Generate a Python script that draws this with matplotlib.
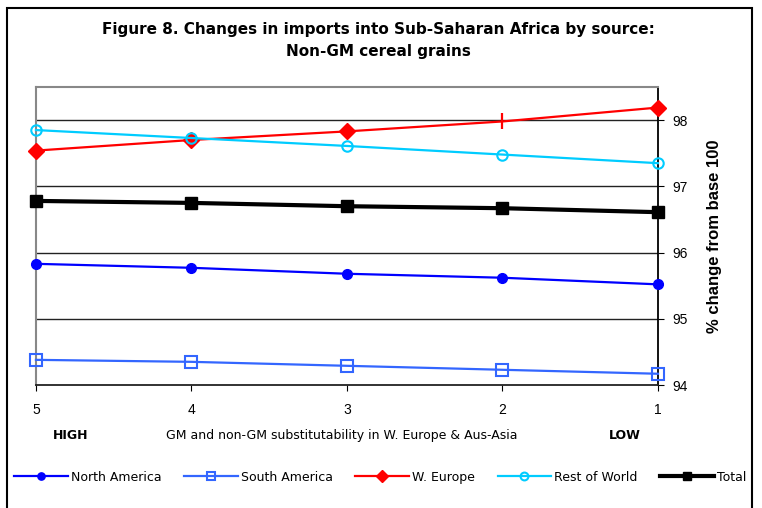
import matplotlib.pyplot as plt
from matplotlib.patches import Rectangle

# substitutability level (5 = high, 1 = low)
levels = [5, 4, 3, 2, 1]

north_america = [95.83, 95.77, 95.68, 95.62, 95.52]
south_america = [94.38, 94.35, 94.29, 94.23, 94.17]
w_europe = [97.54, 97.70, 97.83, 97.98, 98.19]
rest_of_world = [97.85, 97.73, 97.61, 97.48, 97.35]
total = [96.78, 96.75, 96.70, 96.67, 96.61]

y_ticks = [94, 95, 96, 97, 98]

plt.rcParams['font.family'] = ['Liberation Sans', 'DejaVu Sans']

fig = plt.figure(figsize=(7.62, 5.08), dpi=100)
ax = fig.add_axes([0.0472, 0.2421, 0.8163, 0.5866])

# horizontal gridlines
for yv in y_ticks[1:]:
    ax.axhline(yv, color='#222222', lw=1.0, zorder=1)

ax.plot(levels, north_america, color='#0000FF', lw=1.6, marker='o', ms=7,
        label='North America', zorder=3, clip_on=False)
ax.plot(levels, south_america, color='#3366FF', lw=1.6, marker='s', ms=8,
        mfc='none', mew=1.5, label='South America', zorder=3, clip_on=False)
ax.plot(levels, w_europe, color='#FF0000', lw=1.6, marker='D', ms=8.5,
        markevery=[0, 1, 2, 4], label='W. Europe', zorder=3, clip_on=False)
ax.plot(levels[3], w_europe[3], color='#FF0000', marker='|', ms=12, mew=1.6,
        zorder=3)
ax.plot(levels, rest_of_world, color='#00CCFF', lw=1.6, marker='o', ms=7.5,
        mfc='none', mew=1.5, label='Rest of World', zorder=4, clip_on=False)
ax.plot(levels, total, color='black', lw=3, marker='s', ms=8.5,
        label='Total', zorder=3, clip_on=False)

ax.set_xlim(5, 1)
ax.set_ylim(94, 98.5)
ax.set_xticks(levels)
ax.set_yticks(y_ticks)

ax.yaxis.tick_right()
ax.yaxis.set_label_position('right')
ax.tick_params(axis='y', direction='out', length=4, labelsize=10, pad=6)
ax.tick_params(axis='x', direction='out', length=4, labelsize=10, pad=9)

for side in ['left', 'top']:
    ax.spines[side].set_color('#888888')
    ax.spines[side].set_linewidth(1.5)
ax.spines['right'].set_color('black')
ax.spines['right'].set_linewidth(1.3)
ax.spines['bottom'].set_color('#222222')
ax.spines['bottom'].set_linewidth(1.3)

ax.set_ylabel('% change from base 100', fontsize=12, fontweight='bold',
              labelpad=14)

fig.text(0.093, 0.1437, 'HIGH', fontsize=9, fontweight='bold', ha='center',
         va='center', family='DejaVu Sans')
fig.text(0.820, 0.1437, 'LOW', fontsize=9, fontweight='bold', ha='center',
         va='center', family='DejaVu Sans')
fig.text(0.449, 0.1437, 'GM and non-GM substitutability in W. Europe & Aus-Asia',
         fontsize=9, ha='center', va='center', family='DejaVu Sans')

fig.text(0.496, 0.941, 'Figure 8. Changes in imports into Sub-Saharan Africa by source:',
         fontsize=11, fontweight='bold', ha='center', va='center',
         family='DejaVu Sans')
fig.text(0.496, 0.898, 'Non-GM cereal grains',
         fontsize=11, fontweight='bold', ha='center', va='center',
         family='DejaVu Sans')

fig.legend(loc='center', bbox_to_anchor=(0.499, 0.061), ncol=5, frameon=False,
           prop={'family': 'DejaVu Sans', 'size': 9}, handlelength=4.3,
           handletextpad=0.25, columnspacing=1.8, borderaxespad=0,
           markerscale=0.75)

fig.add_artist(Rectangle((0.009, -0.05), 0.978, 1.034, transform=fig.transFigure,
                         fill=False, ec='black', lw=1.5))

fig.savefig('out.png', dpi=100)
